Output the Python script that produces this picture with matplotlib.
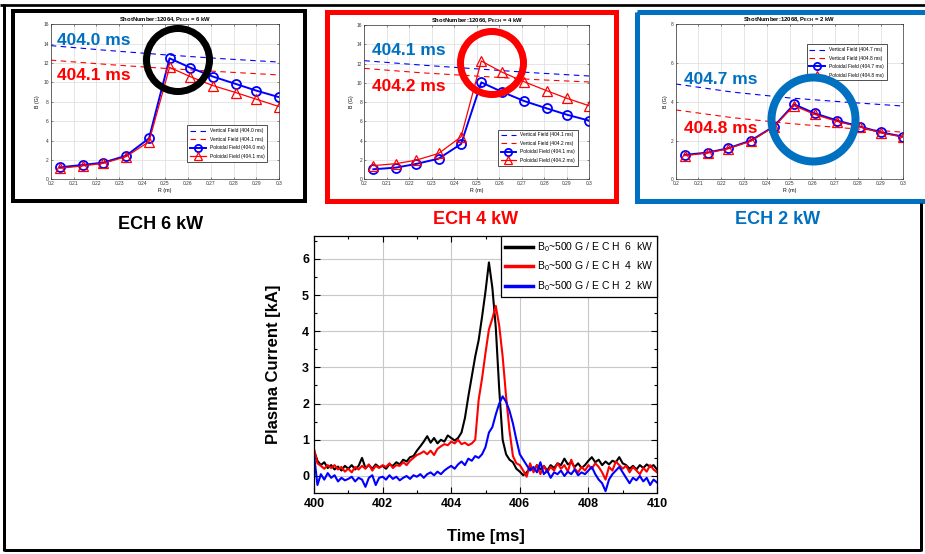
import numpy as np
import matplotlib
matplotlib.use("Agg")
import matplotlib.pyplot as plt
from matplotlib.patches import Rectangle, Circle
from matplotlib.ticker import MultipleLocator

plt.rcParams['font.family'] = ['Liberation Sans', 'DejaVu Sans']
plt.rcParams['mathtext.fontset'] = 'custom'
plt.rcParams['mathtext.rm'] = 'Liberation Sans'
plt.rcParams['mathtext.it'] = 'Liberation Sans:italic'
plt.rcParams['mathtext.bf'] = 'Liberation Sans:bold'

# ---------------- data: radial profiles ----------------
R = [0.204, 0.214, 0.223, 0.233, 0.243, 0.252, 0.261, 0.271, 0.281, 0.290, 0.300]
Rv = [0.200, 0.225, 0.250, 0.275, 0.300]

# 6 kW, shot 12064
p6_pol_a = [1.24, 1.48, 1.72, 2.44, 4.23, 12.49, 11.53, 10.60, 9.84, 9.15, 8.47]
p6_pol_b = [1.14, 1.38, 1.65, 2.34, 3.89, 11.56, 10.60, 9.67, 8.95, 8.26, 7.50]
p6_ver_a = [13.80, 13.30, 12.85, 12.45, 12.10]
p6_ver_b = [12.30, 11.85, 11.45, 11.10, 10.77]
# 4 kW, shot 12066
p4_pol_a = [1.04, 1.21, 1.59, 2.14, 3.66, 10.05, 9.09, 8.12, 7.36, 6.70, 6.08]
p4_pol_b = [1.42, 1.62, 1.98, 2.68, 4.40, 12.27, 11.13, 10.12, 9.19, 8.40, 7.62]
p4_ver_a = [12.30, 11.85, 11.45, 11.05, 10.71]
p4_ver_b = [11.50, 11.05, 10.70, 10.35, 10.09]
# 2 kW, shot 12068
p2_pol_a = [1.26, 1.38, 1.60, 2.00, 2.72, 3.87, 3.41, 3.03, 2.72, 2.43, 2.20]
p2_pol_b = [1.22, 1.36, 1.58, 1.97, 2.70, 3.80, 3.35, 2.98, 2.70, 2.40, 2.18]
p2_ver_a = [4.92, 4.50, 4.20, 3.98, 3.78]
p2_ver_b = [3.58, 3.18, 2.88, 2.64, 2.43]

panels = [
    dict(shot="12064", power="6", ta="404.0", tb="404.1", ylim=16,
         pa=p6_pol_a, pb=p6_pol_b, va=p6_ver_a, vb=p6_ver_b),
    dict(shot="12066", power="4", ta="404.1", tb="404.2", ylim=16,
         pa=p4_pol_a, pb=p4_pol_b, va=p4_ver_a, vb=p4_ver_b),
    dict(shot="12068", power="2", ta="404.7", tb="404.8", ylim=8,
         pa=p2_pol_a, pb=p2_pol_b, va=p2_ver_a, vb=p2_ver_b),
]

# ---------------- data: plasma current ----------------
time_ms = [400.0 + 0.1 * i for i in range(101)]
ip_6kw = [0.70, 0.42, 0.30, 0.38, 0.22, 0.30, 0.18, 0.26, 0.15, 0.28,
          0.20, 0.30, 0.18, 0.28, 0.50, 0.22, 0.30, 0.20, 0.32, 0.24,
          0.28, 0.20, 0.32, 0.28, 0.38, 0.32, 0.45, 0.40, 0.52, 0.55,
          0.70, 0.82, 0.95, 1.10, 0.92, 1.05, 0.90, 1.00, 0.95, 1.12,
          1.05, 0.98, 1.05, 1.20, 1.60, 2.20, 2.75, 3.30, 3.75, 4.40,
          5.10, 5.90, 5.20, 4.10, 2.40, 1.00, 0.60, 0.45, 0.38, 0.20,
          0.12, 0.02, 0.10, 0.22, 0.15, 0.30, 0.18, 0.28, 0.15, 0.30,
          0.22, 0.35, 0.30, 0.48, 0.32, 0.38, 0.25, 0.35, 0.22, 0.30,
          0.42, 0.52, 0.38, 0.45, 0.30, 0.40, 0.32, 0.42, 0.38, 0.52,
          0.35, 0.30, 0.20, 0.28, 0.18, 0.30, 0.22, 0.32, 0.25, 0.30,
          0.18]
ip_4kw = [0.75, 0.35, 0.28, 0.20, 0.30, 0.22, 0.30, 0.18, 0.25, 0.12,
          0.20, 0.10, 0.25, 0.18, 0.28, 0.20, 0.32, 0.15, 0.28, 0.22,
          0.30, 0.25, 0.35, 0.22, 0.30, 0.28, 0.38, 0.30, 0.42, 0.50,
          0.58, 0.62, 0.68, 0.60, 0.70, 0.58, 0.75, 0.82, 0.88, 0.85,
          0.95, 0.90, 1.00, 0.88, 0.92, 0.85, 0.90, 1.00, 2.10, 2.70,
          3.40, 4.05, 4.35, 4.70, 4.15, 3.30, 2.20, 1.25, 0.55, 0.35,
          0.30, 0.15, -0.02, 0.35, 0.10, 0.30, 0.05, 0.28, 0.10, 0.25,
          0.15, 0.35, 0.20, 0.30, 0.12, 0.45, 0.20, 0.10, 0.25, 0.15,
          0.30, 0.20, 0.35, 0.25, 0.10, -0.10, 0.25, 0.15, 0.40, 0.30,
          0.20, 0.28, 0.10, 0.25, 0.15, 0.05, 0.22, 0.12, 0.30, 0.18,
          0.10]
ip_2kw = [0.60, -0.25, 0.05, -0.10, 0.08, -0.05, 0.02, -0.15, -0.05, -0.12,
          -0.08, -0.02, -0.15, -0.05, -0.10, -0.30, -0.05, 0.02, -0.25, -0.05,
          -0.02, -0.10, 0.02, -0.08, -0.02, -0.12, -0.05, 0.00, -0.08, 0.02,
          -0.02, 0.05, -0.05, 0.05, 0.10, 0.02, 0.12, 0.05, 0.15, 0.22,
          0.28, 0.20, 0.32, 0.40, 0.30, 0.48, 0.42, 0.55, 0.50, 0.60,
          0.80, 1.20, 1.35, 1.70, 2.00, 2.20, 2.05, 1.80, 1.45, 1.00,
          0.60, 0.45, 0.30, 0.15, 0.25, 0.10, 0.38, 0.05, 0.15, -0.05,
          0.10, 0.05, 0.15, 0.00, 0.12, 0.05, 0.18, 0.02, 0.10, 0.05,
          0.15, 0.25, 0.05, -0.10, -0.20, -0.42, -0.10, 0.05, 0.15, 0.25,
          0.10, -0.05, -0.20, -0.05, -0.12, 0.00, -0.15, -0.05, -0.25, -0.10,
          -0.18]
ip_labels = ["B$_0$~500 G / E C H  6  kW",
             "B$_0$~500 G / E C H  4  kW",
             "B$_0$~500 G / E C H  2  kW"]
ip_colors = ["#000000", "#ff0000", "#0000ff"]

W, H = 925, 554
fig = plt.figure(figsize=(W / 100, H / 100), dpi=100)
fig.patch.set_facecolor("white")


def ax_px(left, top, right, bottom):
    return fig.add_axes([left / W, 1 - bottom / H, (right - left) / W, (bottom - top) / H])


# ---------------- top panels ----------------
panel_boxes = [(50.7, 24.3, 279.3, 179.3), (364.3, 25.0, 589.3, 179.3), (675.7, 24.3, 903.3, 179.3)]
legend_pos = [("lower right", (0.959, 0.099)), ("lower right", (0.959, 0.073)),
              ("upper right", (0.937, 0.886))]
for p, box, (lloc, lanchor) in zip(panels, panel_boxes, legend_pos):
    ax = ax_px(*box)
    ax.plot(Rv, p["va"], ls=(0, (5, 4)), color="#0000ff", lw=0.8,
            label=f"Vertical Field ({p['ta']} ms)")
    ax.plot(Rv, p["vb"], ls=(0, (5, 4)), color="#ff0000", lw=0.8,
            label=f"Vertical Field ({p['tb']} ms)")
    ax.plot(R, p["pa"], "-o", color="#0000ff", lw=1.4, ms=6.5, mfc="none", mew=1.3,
            label=f"Poloidal Field ({p['ta']} ms)")
    ax.plot(R, p["pb"], "-^", color="#ff0000", lw=0.9, ms=6.5, mfc="none", mew=0.9,
            label=f"Poloidal Field ({p['tb']} ms)")
    ax.set_xlim(0.2, 0.3)
    ax.set_ylim(0, p["ylim"])
    ax.set_xticks(np.arange(0.2, 0.3001, 0.01))
    ax.set_xticklabels(["0.2"] + [f"{v:.2f}" for v in np.arange(0.21, 0.2999, 0.01)] + ["0.3"])
    ax.set_yticks(np.arange(0, p["ylim"] + 0.1, 2))
    ax.tick_params(labelsize=3.5, length=1.5, width=0.4, direction="in", pad=1.5,
                   top=True, right=True, colors="#333333")
    ax.grid(True, color="#dcdcdc", lw=0.5)
    ax.set_axisbelow(True)
    for s in ax.spines.values():
        s.set_linewidth(0.5)
        s.set_color("#333333")
    ax.set_xlabel("R (m)", fontsize=3.8, labelpad=1)
    ax.set_ylabel("B (G)", fontsize=3.8, labelpad=2)
    ax.set_title(f"ShotNumber:{p['shot']}, P$_{{\\mathbf{{ECH}}}}$ = {p['power']} kW",
                 fontsize=4.2, fontweight="bold", pad=2)
    leg = ax.legend(loc=lloc, bbox_to_anchor=lanchor, fontsize=3.5, handlelength=3.2,
                    markerscale=0.8, borderpad=0.6, labelspacing=0.7,
                    fancybox=False, edgecolor="#333333", framealpha=1)
    leg.get_frame().set_linewidth(0.6)

# ---------------- bottom panel ----------------
axb = ax_px(314, 236, 657, 493)
for y, lab, c in zip([ip_6kw, ip_4kw, ip_2kw], ip_labels, ip_colors):
    axb.plot(time_ms, y, color=c, lw=1.5, label=lab)
axb.set_xlim(400, 410)
axb.set_ylim(-0.47, 6.63)
axb.set_xticks(np.arange(400, 411, 2))
axb.set_yticks(np.arange(0, 7, 1))
axb.xaxis.set_minor_locator(MultipleLocator(1))
axb.yaxis.set_minor_locator(MultipleLocator(0.5))
axb.grid(True, which="major", color="#c8c8c8", lw=0.8)
axb.set_axisbelow(True)
axb.tick_params(which="both", direction="in", top=True, right=True, width=0.8)
axb.tick_params(which="major", length=4, labelsize=9)
axb.tick_params(which="minor", length=2)
for lab in axb.get_xticklabels() + axb.get_yticklabels():
    lab.set_fontweight("bold")
for s in axb.spines.values():
    s.set_linewidth(0.9)
axb.set_xlabel("Time [ms]", fontsize=12, fontweight="bold", labelpad=14)
axb.set_ylabel("Plasma Current [kA]", fontsize=12, fontweight="bold", labelpad=15)
lg = axb.legend(loc="upper right", bbox_to_anchor=(1, 1), borderaxespad=0, fontsize=7.5,
                handlelength=2.7, fancybox=False, edgecolor="black", framealpha=1,
                labelspacing=0.55, borderpad=0.4, handletextpad=0.3)
lg.get_frame().set_linewidth(0.9)
for l in lg.get_lines():
    l.set_linewidth(2.5)

# ---------------- overlay decorations ----------------
ov = fig.add_axes([0, 0, 1, 1], facecolor="none")
ov.set_xlim(0, W)
ov.set_ylim(H, 0)
ov.axis("off")
px = 0.72  # pixels -> points

# outer frame
ov.plot([0, W], [5.3, 5.3], color="black", lw=2.7 * px, solid_capstyle="butt")
ov.plot([3.5, 3.5], [4, 551], color="black", lw=3 * px, solid_capstyle="butt")
ov.plot([3.5, 921], [550, 550], color="black", lw=3 * px, solid_capstyle="butt")
ov.plot([921, 921], [203, 551], color="black", lw=3 * px, solid_capstyle="butt")

# panel boxes
ov.add_patch(Rectangle((13, 11), 292, 190, fill=False, ec="black", lw=4 * px))
ov.add_patch(Rectangle((326.5, 11.5), 289.5, 189.5, fill=False, ec="#ff0000", lw=5 * px))
ov.add_patch(Rectangle((636.5, 11.5), 300, 189.5, fill=False, ec="#0070c0", lw=5 * px))

# highlight rings
ov.add_patch(Circle((178, 60), 31.5, fill=False, ec="black", lw=7 * px))
ov.add_patch(Circle((492, 63), 31.5, fill=False, ec="#ff0000", lw=7 * px))
ov.add_patch(Circle((813.5, 119.5), 42, fill=False, ec="#0070c0", lw=8 * px))

# time annotations
ann = [(57, 45, "404.0 ms", "#0070c0"), (57, 80, "404.1 ms", "#ff0000"),
       (372, 55, "404.1 ms", "#0070c0"), (372, 90.7, "404.2 ms", "#ff0000"),
       (684, 84.3, "404.7 ms", "#0070c0"), (684, 133, "404.8 ms", "#ff0000")]
for x, y, t, c in ann:
    ov.text(x, y, t, color=c, fontsize=12.5, fontweight="bold", ha="left", va="baseline")

# ECH labels
ov.text(161, 229, "ECH 6 kW", color="black", fontsize=13, fontweight="bold", ha="center", va="baseline")
ov.text(476, 224, "ECH 4 kW", color="#ff0000", fontsize=13, fontweight="bold", ha="center", va="baseline")
ov.text(778, 224, "ECH 2 kW", color="#0070c0", fontsize=13, fontweight="bold", ha="center", va="baseline")

fig.savefig("out.png", dpi=100, facecolor="white")
